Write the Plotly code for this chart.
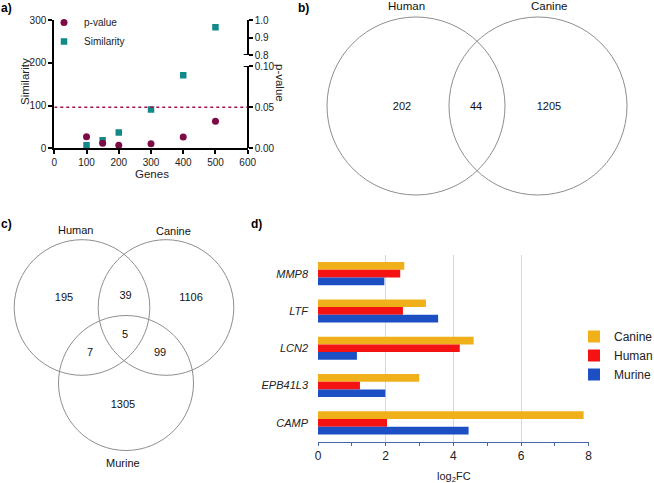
import plotly.graph_objects as go

W, H = 654, 483

# ---------------- data ----------------
# panel a
genes = [100, 150, 200, 300, 400, 500]
similarity = [7, 19, 37, 91, 171, 283]
p_values = [0.014, 0.006, 0.0036, 0.0056, 0.0137, 0.033]
p_threshold = 0.05
x_ticks_a = [0, 100, 200, 300, 400, 500, 600]
sim_ticks = [0, 100, 200, 300]
p_ticks_low = [0.0, 0.05, 0.10]
p_ticklabels_low = ["0.00", "0.05", "0.10"]
p_ticks_high = [0.8, 0.9, 1.0]
p_ticklabels_high = ["0.8", "0.9", "1.0"]

# panel b (two-set Venn)
venn2_sets = ["Human", "Canine"]
venn2_counts = [202, 44, 1205]          # Human only, shared, Canine only

# panel c (three-set Venn)
venn3_sets = ["Human", "Canine", "Murine"]
venn3_counts = [195, 39, 1106, 7, 5, 99, 1305]  # H, H&C, C, H&M, H&C&M, C&M, M

# panel d
genes_d = ["MMP8", "LTF", "LCN2", "EPB41L3", "CAMP"]
canine = [2.55, 3.19, 4.60, 2.99, 7.85]
human = [2.43, 2.51, 4.19, 1.24, 2.04]
murine = [1.96, 3.55, 1.15, 1.99, 4.45]
x_ticks_d = [0, 2, 4, 6, 8]

# ---------------- styling / geometry ----------------
FONT = "Liberation Sans, Arial, sans-serif"
PURPLE = "#7D0B45"
TEAL = "#128A8A"
ORANGE = "#F0B01A"
RED = "#F51212"
BLUE = "#1D4FC4"
CIRCLE = "#8E8E8E"


def px(x):
    return x / W


def py(y):
    return 1 - y / H


venn2_geom = [(416, 106, 89), (538, 106, 89)]
venn2_label_pos = [(406, 6), (549, 6)]
venn2_count_pos = [(402, 107), (476, 107), (549, 107)]

venn3_geom = [(82, 307.5, 67.8), (166, 307.5, 67.8), (126, 383, 67.5)]
venn3_label_pos = [(75, 230), (173, 231), (123, 463)]
venn3_count_pos = [(64, 298), (125.5, 296), (191, 298), (90, 353),
                   (125, 335), (160, 353), (123, 405)]

fig = go.Figure()

# panel a traces
fig.add_trace(go.Scatter(x=genes, y=p_values, mode="markers", name="p-value",
                         marker=dict(symbol="circle", size=7, color=PURPLE),
                         xaxis="x", yaxis="y2", legend="legend"))
fig.add_trace(go.Scatter(x=genes, y=similarity, mode="markers", name="Similarity",
                         marker=dict(symbol="square", size=6.5, color=TEAL),
                         xaxis="x", yaxis="y", legend="legend"))
fig.add_trace(go.Scatter(x=[None], y=[None], xaxis="x", yaxis="y3", showlegend=False,
                         mode="markers", hoverinfo="skip"))

# panel d traces
for name, vals, col in [("Canine", canine, ORANGE), ("Human", human, RED),
                        ("Murine", murine, BLUE)]:
    fig.add_trace(go.Bar(x=vals, y=genes_d, orientation="h", name=name,
                         marker=dict(color=col, line=dict(width=0)),
                         xaxis="x4", yaxis="y4", legend="legend2"))

# Venn counts (overlay axes in pixel units)
fig.add_trace(go.Scatter(x=[p[0] for p in venn2_count_pos], y=[p[1] for p in venn2_count_pos],
                         text=[str(c) for c in venn2_counts], mode="text",
                         textfont=dict(size=11, color="#111", family=FONT),
                         xaxis="x5", yaxis="y5", showlegend=False, hoverinfo="skip"))
fig.add_trace(go.Scatter(x=[p[0] for p in venn3_count_pos], y=[p[1] for p in venn3_count_pos],
                         text=[str(c) for c in venn3_counts], mode="text",
                         textfont=dict(size=11, color="#111", family=FONT),
                         xaxis="x5", yaxis="y5", showlegend=False, hoverinfo="skip"))

shapes = []
for cx, cy, r in venn2_geom + venn3_geom:
    shapes.append(dict(type="circle", xref="x5", yref="y5", x0=cx - r, x1=cx + r,
                       y0=cy - r, y1=cy + r, line=dict(color=CIRCLE, width=1)))
# threshold line
shapes.append(dict(type="line", xref="x", yref="y2", x0=0, x1=600, y0=p_threshold,
                   y1=p_threshold, line=dict(color="#A0104E", width=1.5, dash="dot")))
# axis-break caps
posA = px(247.7)
shapes.append(dict(type="line", xref="paper", yref="y2", x0=posA - 4 / W, x1=posA + 4 / W,
                   y0=0.1, y1=0.1, line=dict(color="black", width=2)))
shapes.append(dict(type="line", xref="paper", yref="y3", x0=posA - 4 / W, x1=posA + 4 / W,
                   y0=0.8, y1=0.8, line=dict(color="black", width=2)))

ann = []


def txt(x, y, s, size=11, bold=False, angle=0, color="#111", xanchor="center"):
    ann.append(dict(x=x, y=y, xref="x5", yref="y5", text=f"<b>{s}</b>" if bold else s,
                    showarrow=False, textangle=angle, xanchor=xanchor, yanchor="middle",
                    font=dict(size=size, color=color, family=FONT)))


txt(6, 8, "a)", 12, bold=True, color="black")
txt(303, 8, "b)", 12, bold=True, color="black")
txt(6, 224, "c)", 12, bold=True, color="black")
txt(256, 224, "d)", 12, bold=True, color="black")

txt(25, 82, "Similarity", 11.5, angle=-90, color="#222")
txt(152, 174, "Genes", 11.5, color="#222")
txt(280, 83, "p-value", 11.5, angle=90, color="#222")

for (x, y), s in zip(venn2_label_pos, venn2_sets):
    txt(x, y, s, 11.5)
for (x, y), s in zip(venn3_label_pos, venn3_sets):
    txt(x, y, s, 11)

txt(454, 477, "log<sub>2</sub>FC", 11, color="#222")

axA = dict(showline=True, linecolor="black", linewidth=2, ticks="outside", ticklen=4,
           tickwidth=2, tickcolor="black", showgrid=False, zeroline=False,
           tickfont=dict(size=10, color="#222", family=FONT), fixedrange=True)

fig.update_layout(
    width=W, height=H, margin=dict(l=0, r=0, t=0, b=0, pad=0, autoexpand=False),
    paper_bgcolor="white", plot_bgcolor="rgba(0,0,0,0)",
    font=dict(family=FONT, color="#222"),
    barmode="group", bargap=0.38, bargroupgap=0,
    xaxis=dict(domain=[px(54.3), px(247.7)], range=[0, 600], tickvals=x_ticks_a,
               anchor="y", **axA),
    yaxis=dict(domain=[py(148.3), py(20)], range=[0, 300], tickvals=sim_ticks,
               anchor="x", **axA),
    yaxis2=dict(domain=[py(148.3), py(66)], range=[0, 0.1], tickvals=p_ticks_low,
                ticktext=p_ticklabels_low, anchor="free", position=posA, side="right", **axA),
    yaxis3=dict(domain=[py(55), py(20)], range=[0.8, 1.0], tickvals=p_ticks_high,
                ticktext=p_ticklabels_high, anchor="free", position=posA, side="right", **axA),
    xaxis4=dict(domain=[px(318), px(588.7)], range=[0, 8], tickvals=x_ticks_d, anchor="y4",
                showgrid=True, gridcolor="#D9D9D9", gridwidth=1, zeroline=False,
                showline=True, linecolor="#4766A8", linewidth=1,
                ticks="outside", ticklen=3, tickcolor="#4766A8",
                minor=dict(dtick=1, tick0=0, ticks="outside", ticklen=3, tickcolor="#4766A8",
                           showgrid=False),
                tickfont=dict(size=12, color="#222", family=FONT), fixedrange=True),
    yaxis4=dict(domain=[py(441.5), py(255)], anchor="x4", type="category",
                categoryorder="array", categoryarray=genes_d, autorange="reversed",
                showline=False, showgrid=False, zeroline=False, ticks="",
                ticklabelstandoff=9,
                tickfont=dict(size=11, color="#222", family=FONT, style="italic"),
                fixedrange=True),
    xaxis5=dict(domain=[0, 1], range=[0, W], visible=False, anchor="y5", fixedrange=True),
    yaxis5=dict(domain=[0, 1], range=[H, 0], visible=False, anchor="x5", fixedrange=True),
    legend=dict(x=px(44), y=py(8), xanchor="left", yanchor="top",
                font=dict(size=10, color="#222", family=FONT), bgcolor="rgba(0,0,0,0)",
                tracegroupgap=0, itemwidth=30),
    legend2=dict(x=px(574), y=py(322), xanchor="left", yanchor="top",
                 font=dict(size=12, color="#222", family=FONT), bgcolor="rgba(0,0,0,0)",
                 tracegroupgap=0, itemwidth=30),
    shapes=shapes, annotations=ann, showlegend=True,
)

fig.write_html("out.html", config={"displayModeBar": False},
               post_script="document.body.style.margin='0px';")
